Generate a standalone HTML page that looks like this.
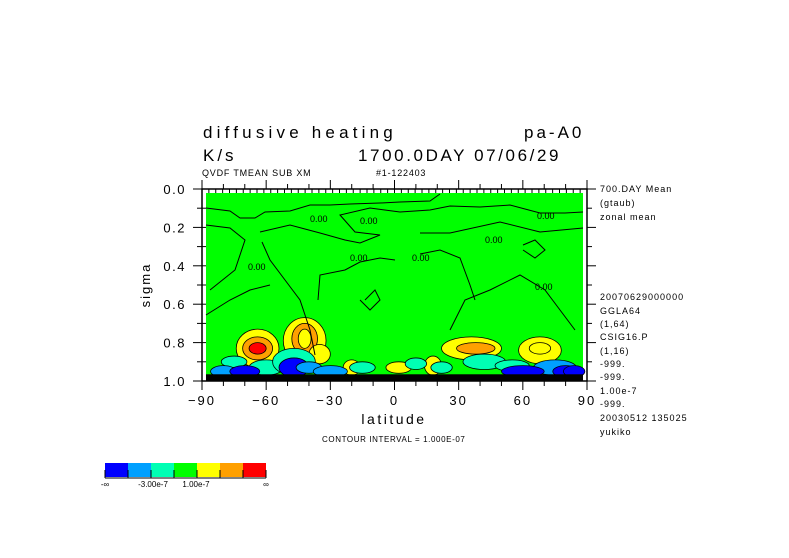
<!DOCTYPE html>
<html><head><meta charset="utf-8"><style>
body{margin:0;background:#fff;}
svg{display:block;font-family:"Liberation Mono",monospace;}
</style></head><body>
<svg width="789" height="558" viewBox="0 0 789 558" id="svg">
<rect width="789" height="558" fill="#fff"/>
<g font-family="Liberation Sans, sans-serif" fill="#000">
<text x="203" y="138" font-size="17" letter-spacing="4.2">diffusive heating</text>
<text x="524" y="138" font-size="17" letter-spacing="3">pa-A0</text>
<text x="203" y="161" font-size="17" letter-spacing="3">K/s</text>
<text x="358" y="161" font-size="17" letter-spacing="2.6">1700.0DAY 07/06/29</text>
<text x="202" y="176" font-size="9" letter-spacing="0.8">QVDF TMEAN SUB XM</text>
<text x="376" y="176" font-size="9" letter-spacing="0.8">#1-122403</text>
</g>
<g id="plot"></g>
<g font-family="Liberation Sans, sans-serif" font-size="9" letter-spacing="1" fill="#000">
<text x="600" y="192">700.DAY Mean</text><text x="600" y="206">(gtaub)</text><text x="600" y="220">zonal mean</text>
<text x="600" y="300">20070629000000</text><text x="600" y="314">GGLA64</text><text x="600" y="327">(1,64)</text>
<text x="600" y="340">CSIG16.P</text><text x="600" y="354">(1,16)</text><text x="600" y="367">-999.</text>
<text x="600" y="380">-999.</text><text x="600" y="394">1.00e-7</text><text x="600" y="407">-999.</text>
<text x="600" y="421">20030512 135025</text><text x="600" y="435">yukiko</text>
</g>
<text x="322" y="442" font-family="Liberation Sans, sans-serif" font-size="8" letter-spacing="0.6">CONTOUR INTERVAL = 1.000E-07</text>
<g id="cbar"></g>
</svg>
<script>
const latTicks=[-90,-60,-30,0,30,60,90];
const sigTicks=[0.0,0.2,0.4,0.6,0.8,1.0];
const cbColors=["#0000ff","#00a0ff","#00ffb4","#00ff00","#ffff00","#ffa000","#ff0000"];
const cbLabels=["-∞","-3.00e-7","1.00e-7","∞"];
const blobLat=[-64,-64,-64,-42,-42,-42,-35,36,38,68,68,-20,2,18,-75,-80,-60,-47,-47,-40,-15,10,22,42,55,75,80,-70,-30,60,84];
const blobSig=[0.83,0.83,0.83,0.79,0.78,0.78,0.86,0.83,0.83,0.84,0.83,0.93,0.93,0.92,0.9,0.95,0.93,0.9,0.93,0.93,0.93,0.91,0.93,0.9,0.92,0.93,0.95,0.95,0.95,0.95,0.95];
const blobW=[10,7,4,10,6,3,5,14,9,10,5,4,6,4,6,6,8,10,7,6,6,5,5,10,8,10,6,7,8,10,5];
const blobH=[0.1,0.06,0.03,0.12,0.08,0.05,0.05,0.06,0.03,0.07,0.03,0.04,0.03,0.05,0.03,0.03,0.04,0.07,0.05,0.03,0.03,0.03,0.03,0.04,0.03,0.04,0.03,0.03,0.03,0.03,0.03];
const blobLev=[4,5,6,4,5,4,4,4,5,4,4,4,4,4,2,1,2,2,0,1,2,2,2,2,2,1,0,0,1,0,0];
var x0=202,x1=587,y0=189,y1=381;
function X(l){return x0+(l+90)/180*(x1-x0);}
function Y(s){return y0+s*(y1-y0);}
var NS="http://www.w3.org/2000/svg";
function mk(t,a,p){var e=document.createElementNS(NS,t);for(var k in a)e.setAttribute(k,a[k]);p.appendChild(e);return e;}
var P=document.getElementById('plot');
var fillR=mk('rect',{x:206,y:193,width:377,height:188,fill:'#00ff00'},P);


for(var i=0;i<blobLat.length;i++){
  var el=mk('ellipse',{cx:X(blobLat[i]),cy:Y(blobSig[i]),rx:blobW[i]/180*(x1-x0),ry:blobH[i]*(y1-y0),fill:cbColors[blobLev[i]],stroke:'#000','stroke-width':0.8},P);
  
  
}
var band=mk('rect',{x:206,y:Y(0.965),width:377,height:Y(1)-Y(0.965),fill:'#000'},P);


var lines=[
"206,208 230,211 240,218 255,218 265,212 290,211 310,205 330,205 350,204 380,203 400,202 430,201 440,194",
"206,225 230,228 245,240 235,270 210,290",
"260,232 290,225 320,233 345,240 360,243 380,235 355,232 340,215 370,208 400,212 430,210 450,206 480,207 510,205 540,213 565,213 583,212",
"262,242 270,260 285,280 300,300 310,330 315,355",
"318,300 320,275 345,270 360,262 380,258 395,260",
"420,254 440,250 460,258 470,285 475,300",
"420,233 450,233 500,222 540,232 583,228",
"206,315 230,300 250,290 270,285",
"450,330 465,300 490,290 520,275 545,290 560,310 575,330",
"365,300 375,290 380,300 370,310 360,300",
"523,245 535,240 545,250 535,258 523,250"
];
lines.forEach(function(d){var e=mk('polyline',{points:d,fill:'none',stroke:'#000','stroke-width':1},P);

});
[[310,222,"0.00"],[360,224,"0.00"],[350,261,"0.00"],[412,261,"0.00"],[485,243,"0.00"],[537,219,"0.00"],[248,270,"0.00"],[535,290,"0.00"]].forEach(function(t){
 var e=mk('text',{x:t[0],y:t[1],'font-size':9,'font-family':'Liberation Sans, sans-serif'},P);e.textContent=t[2];
 
 });
var fr=mk('rect',{x:x0,y:y0,width:x1-x0,height:y1-y0,fill:'none',stroke:'#000','stroke-width':1.5},P);


for(var l=-90;l<=90;l+=10){var big=l%30===0;
 var t1=mk('line',{x1:X(l),x2:X(l),y1:y0,y2:y0-(big?9:5),stroke:'#000'},P);
 
 
 var b1=mk('line',{x1:X(l),x2:X(l),y1:y1,y2:y1+(big?9:5),stroke:'#000'},P);
 
 }
for(var m=-90;m<=90.01;m+=180/56){mk('line',{x1:X(m),x2:X(m),y1:y0,y2:y0+4,stroke:'#000'},P);}
latTicks.forEach(function(l){var e=mk('text',{x:X(l),y:y1+24,'text-anchor':'middle','font-size':13,'letter-spacing':2,'font-family':'Liberation Sans, sans-serif'},P);
 e.textContent=(l<0?'\u2212':'')+Math.abs(l);
 
 });
for(var k=0;k<=10;k++){var s=k/10,bg=k%2===0;
 mk('line',{x1:x0,x2:x0-(bg?9:5),y1:Y(s),y2:Y(s),stroke:'#000'},P);
 mk('line',{x1:x1,x2:x1+(bg?9:5),y1:Y(s),y2:Y(s),stroke:'#000'},P);
 mk('line',{x1:x0,x2:x0+4,y1:Y(s),y2:Y(s),stroke:'#000'},P);}
sigTicks.forEach(function(s){var e=mk('text',{x:186,y:Y(s)+5,'text-anchor':'end','font-size':13,'letter-spacing':1.5,'font-family':'Liberation Sans, sans-serif'},P);
 e.textContent=s.toFixed(1);
 
 });
var xt=mk('text',{x:394,y:424,'text-anchor':'middle','font-size':14,'letter-spacing':2.5,'font-family':'Liberation Sans, sans-serif'},P);xt.textContent='latitude';


var yt=mk('text',{x:150,y:285,'text-anchor':'middle','font-size':13,'letter-spacing':2,'font-family':'Liberation Sans, sans-serif',transform:'rotate(-90 150 285)'},P);yt.textContent='sigma';


var C=document.getElementById('cbar');
cbColors.forEach(function(c,i){var r=mk('rect',{x:105+i*23,y:463,width:23,height:14,fill:c},C);
 
 
 mk('line',{x1:105+i*23,x2:105+i*23,y1:470,y2:478,stroke:'#000'},C);});
mk('line',{x1:266,x2:266,y1:470,y2:478,stroke:'#000'},C);
mk('line',{x1:105,x2:266,y1:478,y2:478,stroke:'#000'},C);
var cx=[105,153,196,266];
cbLabels.forEach(function(t,i){var e=mk('text',{x:cx[i],y:487,'text-anchor':'middle','font-size':8,'font-family':'Liberation Sans, sans-serif'},C);
 e.textContent=t;
 
 });
</script>
</body></html>
